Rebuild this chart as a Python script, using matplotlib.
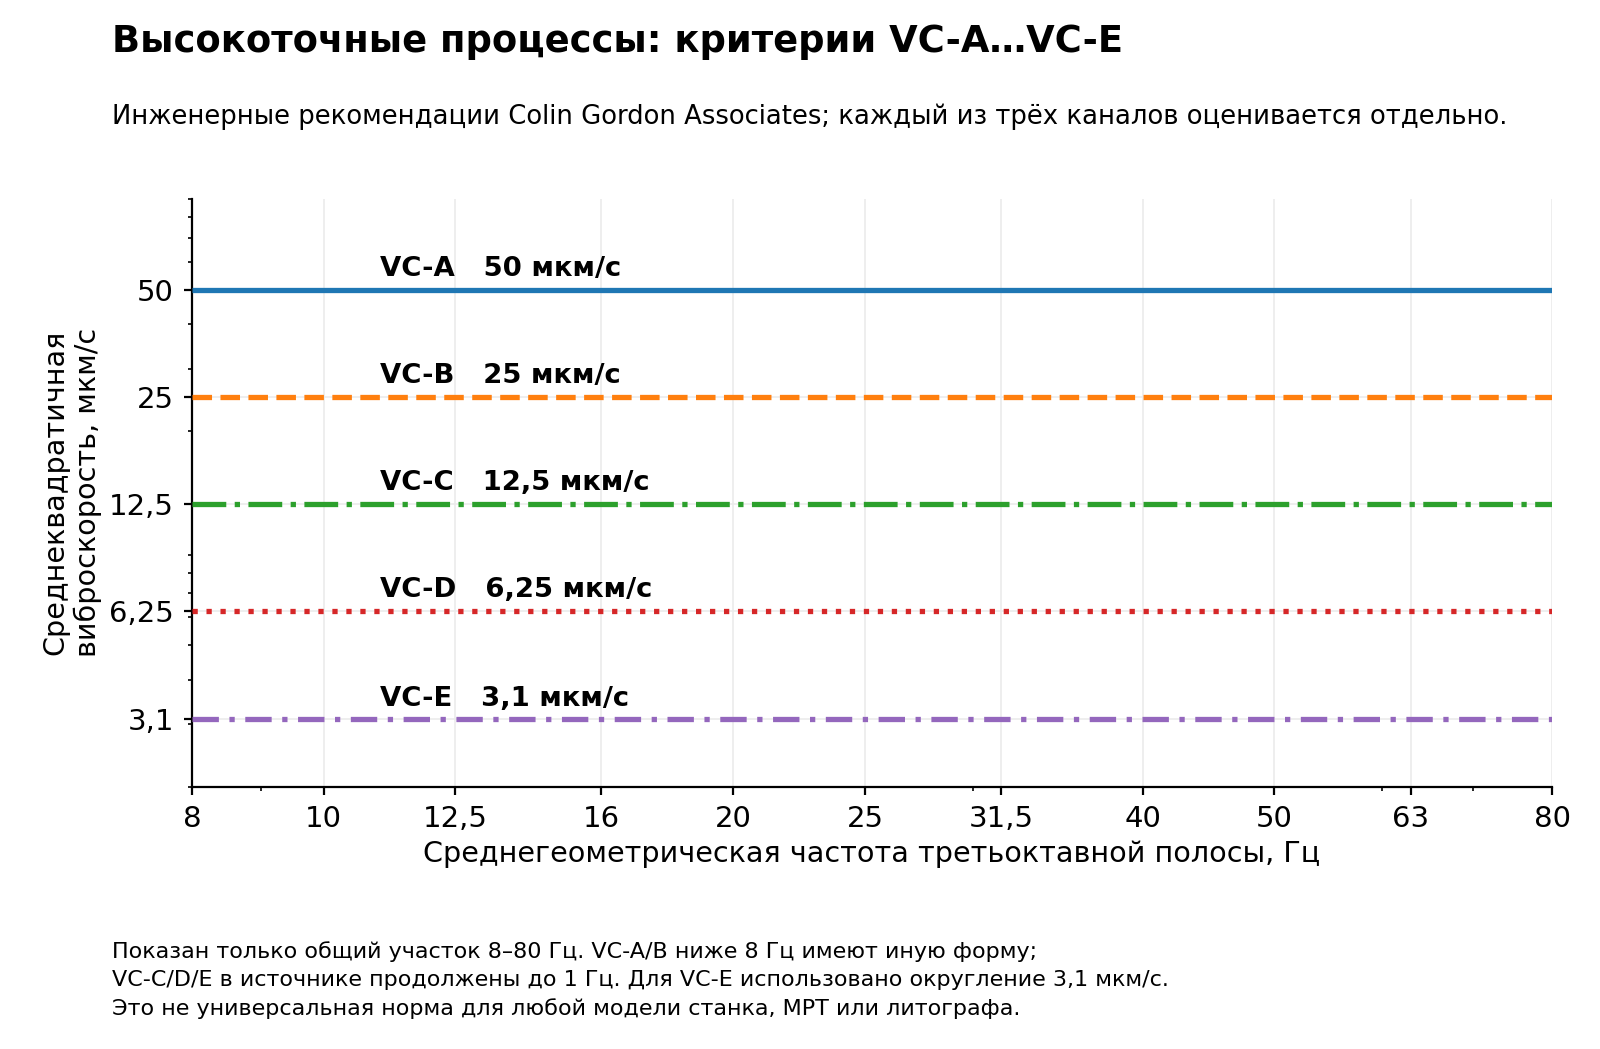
import matplotlib
matplotlib.use("Agg")
import matplotlib.pyplot as plt
from matplotlib.ticker import FixedLocator, FixedFormatter, NullFormatter, LogLocator

plt.rcParams['font.family'] = ['DejaVu Sans']

# --- data ---
classes = ["VC-A", "VC-B", "VC-C", "VC-D", "VC-E"]
velocities = [50, 25, 12.5, 6.25, 3.1]
value_labels = ["50 мкм/с", "25 мкм/с", "12,5 мкм/с", "6,25 мкм/с", "3,1 мкм/с"]
freq_range = [8, 80]
x_ticks = [8, 10, 12.5, 16, 20, 25, 31.5, 40, 50, 63, 80]
x_tick_labels = ["8", "10", "12,5", "16", "20", "25", "31,5", "40", "50", "63", "80"]
y_ticks = [3.1, 6.25, 12.5, 25, 50]
y_tick_labels = ["3,1", "6,25", "12,5", "25", "50"]

colors = ["#1f77b4", "#ff7f0e", "#2ca02c", "#d62728", "#9467bd"]
styles = [(0, ()), (0, (3.7, 1.6)), (0, (6.4, 1.6, 1, 1.6)), (0, (1, 1.65)), (0, (5, 2, 1, 2))]

W, H = 1568.0, 1028.0  # reference measured in these units

fig = plt.figure(figsize=(8, 5.245), dpi=200)
ax = fig.add_axes([188 / W, 1 - 771 / H, (1521 - 188) / W, (771 - 195) / H])

for c, v, lab, col, ls in zip(classes, velocities, value_labels, colors, styles):
    ax.plot(freq_range, [v, v], color=col, lw=1.9, linestyle=ls, zorder=3)
    ax.text(11.0, v * 1.05, f"{c}   {lab}", fontsize=9.9, fontweight='bold',
            ha='left', va='bottom', zorder=4)

ax.set_xscale('log')
ax.set_yscale('log')
ax.set_xlim(freq_range)
ax.set_ylim(2.0, 90)

ax.xaxis.set_major_locator(FixedLocator(x_ticks))
ax.xaxis.set_major_formatter(FixedFormatter(x_tick_labels))
ax.xaxis.set_minor_locator(LogLocator(base=10, subs=range(2, 10)))
ax.xaxis.set_minor_formatter(NullFormatter())
ax.yaxis.set_major_locator(FixedLocator(y_ticks))
ax.yaxis.set_major_formatter(FixedFormatter(y_tick_labels))
ax.yaxis.set_minor_locator(LogLocator(base=10, subs=range(2, 10)))
ax.yaxis.set_minor_formatter(NullFormatter())

ax.grid(True, which='major', color='#ebebeb', lw=0.6, zorder=0)
ax.set_axisbelow(True)
ax.tick_params(axis='both', which='major', labelsize=10.5, length=3)
ax.tick_params(axis='both', which='minor', length=1.5)
ax.spines['top'].set_visible(False)
ax.spines['right'].set_visible(False)

ax.set_xlabel("Среднегеометрическая частота третьоктавной полосы, Гц", fontsize=10.3, labelpad=2.5)
ax.set_ylabel("Среднеквадратичная\nвиброскорость, мкм/с", fontsize=10.3, labelpad=2.5)

fig.text(110 / W, 1 - 41 / H, "Высокоточные процессы: критерии VC-A…VC-E",
         fontsize=13.3, fontweight='bold', ha='left', va='center')
fig.text(110 / W, 1 - 114 / H,
         "Инженерные рекомендации Colin Gordon Associates; каждый из трёх каналов оценивается отдельно.",
         fontsize=9.3, ha='left', va='center')
fig.text(110 / W, 1 - 922 / H,
         "Показан только общий участок 8–80 Гц. VC-A/B ниже 8 Гц имеют иную форму;\n"
         "VC-C/D/E в источнике продолжены до 1 Гц. Для VC-E использовано округление 3,1 мкм/с.\n"
         "Это не универсальная норма для любой модели станка, МРТ или литографа.",
         fontsize=8.0, ha='left', va='top', linespacing=1.5)

fig.savefig("out.png", dpi=200)
